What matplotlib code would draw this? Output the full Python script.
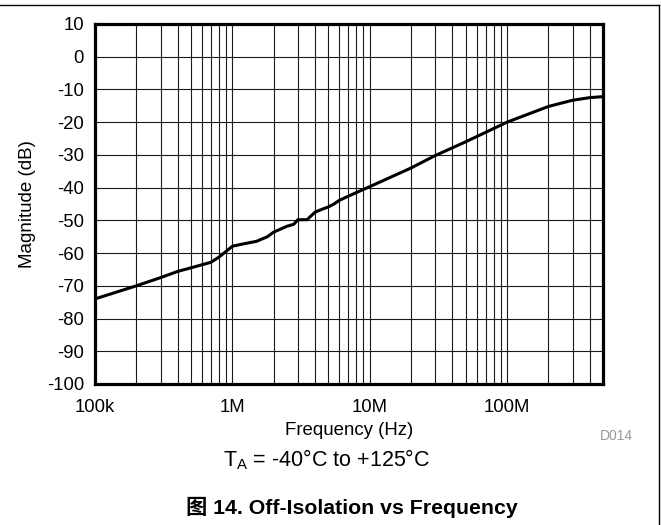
import matplotlib
matplotlib.use("Agg")
import matplotlib.pyplot as plt
from matplotlib.lines import Line2D
from matplotlib.ticker import FixedLocator, NullFormatter

plt.rcParams['font.family'] = ['Liberation Sans', 'Noto Sans CJK SC', 'DejaVu Sans']
plt.rcParams['axes.unicode_minus'] = False

# Off-isolation curve
freq = [1e5, 2e5, 3e5, 4e5, 5e5, 7e5, 8e5, 9e5, 1e6, 1.2e6, 1.5e6, 1.8e6,
        2e6, 2.5e6, 2.8e6, 3e6, 3.5e6, 4e6, 4.5e6, 5e6, 5.5e6, 6e6, 7e6,
        1e7, 2e7, 3e7, 5e7, 1e8, 2e8, 3e8, 4e8, 5e8]
mag = [-74.0, -70.0, -67.5, -65.6, -64.5, -62.8, -61.2, -59.5, -57.9, -57.2,
       -56.4, -55.0, -53.6, -51.8, -51.2, -49.8, -49.8, -47.5, -46.6, -45.9,
       -45.0, -43.9, -42.6, -39.7, -34.0, -30.2, -26.0, -20.0, -15.2, -13.3,
       -12.5, -12.2]

xticks = [1e5, 1e6, 1e7, 1e8]
xticklabels = ["100k", "1M", "10M", "100M"]
yticks = list(range(-100, 11, 10))

fig = plt.figure(figsize=(6.61, 5.25), dpi=100)
ax = fig.add_axes([95 / 661, 1 - 384 / 525, 508 / 661, 360 / 525])

ax.plot(freq, mag, color="black", lw=2.2, zorder=3)

ax.set_xscale("log")
ax.set_xlim(1e5, 5e8)
ax.set_ylim(-100, 10)
ax.set_xticks(xticks)
ax.set_xticklabels(xticklabels)
minors = [m * 10 ** e for e in range(5, 9) for m in range(2, 10) if m * 10 ** e <= 5e8]
ax.xaxis.set_minor_locator(FixedLocator(minors))
ax.xaxis.set_minor_formatter(NullFormatter())
ax.set_yticks(yticks)

ax.grid(True, which="both", color="#1a1a1a", lw=0.8)
ax.tick_params(which="both", length=0, labelsize=13.3)
ax.tick_params(axis="x", pad=11)
ax.tick_params(axis="y", pad=8)
for s in ax.spines.values():
    s.set_linewidth(2.3)

ax.set_xlabel("Frequency (Hz)", fontsize=13.4, labelpad=4)
ax.set_ylabel("Magnitude (dB)", fontsize=13.5, labelpad=8)

fig.text(633 / 661, 1 - 436 / 525, "D014", color="#999999", fontsize=10,
         ha="right", va="center")
fig.text(327 / 661, 1 - 460 / 525, "T$_\\mathregular{A}$ = -40°C to +125°C",
         fontsize=15.5, ha="center", va="center")
fig.text(352 / 661, 1 - 507 / 525, "图 14. Off-Isolation vs Frequency",
         fontsize=15.3, fontweight="bold", ha="center", va="center")

# outer frame (top and right edges)
fig.add_artist(Line2D([0, 659 / 661], [1 - 4.5 / 525] * 2, color="black", lw=1))
fig.add_artist(Line2D([659 / 661] * 2, [0, 1 - 4.5 / 525], color="black", lw=1))

fig.savefig("out.png", dpi=100)
